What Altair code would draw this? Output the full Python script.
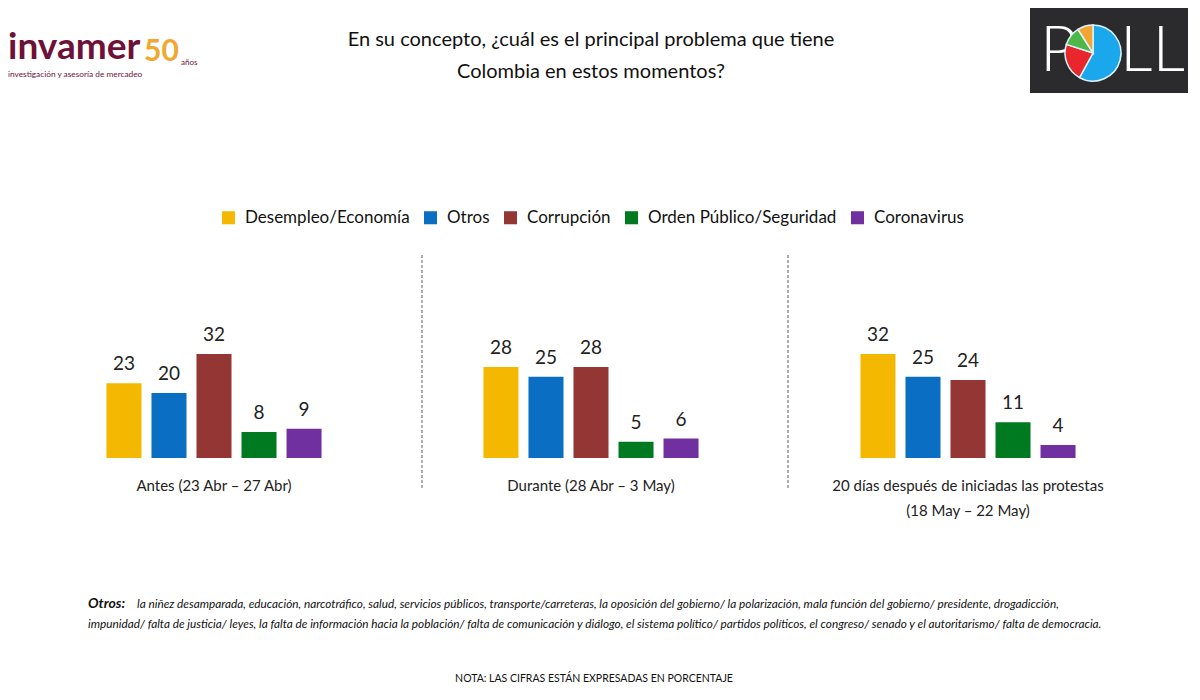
import altair as alt
import pandas as pd

# ---- data ----
categories = ["Desempleo/Economía", "Otros", "Corrupción", "Orden Público/Seguridad", "Coronavirus"]
colors = ["#F5B800", "#0A6FC2", "#943634", "#007A21", "#7030A0"]
periods = ["Antes", "Durante", "Despues"]
period_labels = [
    ["Antes (23 Abr – 27 Abr)"],
    ["Durante (28 Abr – 3 May)"],
    ["20 días después de iniciadas las protestas", "(18 May – 22 May)"],
]
antes = [23, 20, 32, 8, 9]
durante = [28, 25, 28, 5, 6]
despues = [32, 25, 24, 11, 4]

title_lines = ["En su concepto, ¿cuál es el principal problema que tiene", "Colombia en estos momentos?"]
note_bold = "Otros:"
note_line1 = ("la niñez desamparada, educación, narcotráfico, salud, servicios públicos, transporte/carreteras, "
              "la oposición del gobierno/ la polarización, mala función del gobierno/ presidente, drogadicción,")
note_line2 = ("impunidad/ falta de justicia/ leyes, la falta de información hacia la población/ falta de comunicación y diálogo, "
              "el sistema político/ partidos políticos, el congreso/ senado y el autoritarismo/ falta de democracia.")
nota = "NOTA: LAS CIFRAS ESTÁN EXPRESADAS EN PORCENTAJE"

pie_values = [58, 22, 11, 9]
pie_colors = ["#1AA7EC", "#E8262B", "#4DB848", "#F3A533"]

FONT = "Lato"

rows = []
for p, vals in zip(periods, [antes, durante, despues]):
    for c, v in zip(categories, vals):
        rows.append({"period": p, "category": c, "value": v})
df = pd.DataFrame(rows)

lab_df = pd.DataFrame({"period": periods, "label": period_labels})

x_scale = alt.Scale(domain=periods, range=[17.5, 1148.5], paddingInner=0.403, paddingOuter=0.2015)
xo_scale = alt.Scale(domain=categories, paddingInner=0.222, paddingOuter=0.111)
y_scale = alt.Scale(domain=[0, 32], range=[450, 346])

base = alt.Chart(df)

bars = base.mark_bar().encode(
    x=alt.X("period:N", scale=x_scale, axis=None, sort=periods),
    xOffset=alt.XOffset("category:N", scale=xo_scale, sort=categories),
    y=alt.Y("value:Q", scale=y_scale, axis=None),
    color=alt.Color(
        "category:N",
        sort=categories,
        scale=alt.Scale(domain=categories, range=colors),
        legend=alt.Legend(
            title=None, orient="none", legendX=212, legendY=201, direction="horizontal",
            symbolType="square", symbolSize=170, symbolStrokeWidth=0, labelFont=FONT,
            labelFontSize=17, labelColor="#111", labelOffset=8, columnPadding=12,
            labelLimit=400,
        ),
    ),
)

values = base.mark_text(baseline="bottom", dy=-9, font=FONT, fontSize=19, color="#222").encode(
    x=alt.X("period:N", scale=x_scale, sort=periods),
    xOffset=alt.XOffset("category:N", scale=xo_scale, sort=categories),
    y=alt.Y("value:Q", scale=y_scale),
    text=alt.Text("value:Q"),
)

group_labels = alt.Chart(lab_df).mark_text(
    baseline="top", font=FONT, fontSize=15, color="#222", lineHeight=25
).encode(
    x=alt.X("period:N", scale=x_scale, sort=periods),
    y=alt.value(471),
    text="label:N",
)

sep_df = pd.DataFrame({"pos": [414, 780]})
seps = alt.Chart(sep_df).mark_rule(color="#777", strokeDash=[3, 2], strokeWidth=1.2).encode(
    x=alt.X("pos:Q", scale=None),
    y=alt.value(247),
    y2=alt.value(480),
)

title = alt.Chart(pd.DataFrame({"t": [title_lines]})).mark_text(
    font=FONT, fontSize=20, color="#111", lineHeight=32, baseline="top"
).encode(x=alt.value(583), y=alt.value(22), text="t:N")

note_b = alt.Chart(pd.DataFrame({"t": [note_bold]})).mark_text(
    font=FONT, fontSize=14, fontWeight="bold", fontStyle="italic", color="#111", align="left"
).encode(x=alt.value(80), y=alt.value(596), text="t:N")
note_1 = alt.Chart(pd.DataFrame({"t": [note_line1]})).mark_text(
    font=FONT, fontSize=11.8, fontStyle="italic", color="#111", align="left"
).encode(x=alt.value(129), y=alt.value(596), text="t:N")
note_2 = alt.Chart(pd.DataFrame({"t": [note_line2]})).mark_text(
    font=FONT, fontSize=11.8, fontStyle="italic", color="#111", align="left"
).encode(x=alt.value(80), y=alt.value(616), text="t:N")
nota_t = alt.Chart(pd.DataFrame({"t": [nota]})).mark_text(
    font=FONT, fontSize=10.5, color="#111"
).encode(x=alt.value(586), y=alt.value(671), text="t:N")

# invamer logo (text)
logo1 = alt.Chart(pd.DataFrame({"t": ["invamer"]})).mark_text(
    font=FONT, fontSize=37, fontWeight="bold", color="#6E1139", align="left"
).encode(x=alt.value(0), y=alt.value(40), text="t:N")
logo2 = alt.Chart(pd.DataFrame({"t": ["50"]})).mark_text(
    font=FONT, fontSize=30, fontWeight="bold", color="#F0A830", align="left"
).encode(x=alt.value(136), y=alt.value(44), text="t:N")
logo3 = alt.Chart(pd.DataFrame({"t": ["años"]})).mark_text(
    font=FONT, fontSize=8, color="#6E1139", align="left"
).encode(x=alt.value(173), y=alt.value(55), text="t:N")
logo4 = alt.Chart(pd.DataFrame({"t": ["investigación y asesoría de mercadeo"]})).mark_text(
    font=FONT, fontSize=8.3, color="#6E1139", align="left"
).encode(x=alt.value(0), y=alt.value(67), text="t:N")

# POLL logo
poll_bg = alt.Chart(pd.DataFrame({"a": [1]})).mark_rect(color="#2B2B2E").encode(
    x=alt.value(1022), x2=alt.value(1180), y=alt.value(0), y2=alt.value(85)
)
poll_p = alt.Chart(pd.DataFrame({"t": ["P"]})).mark_text(
    font=FONT, fontSize=64, fontWeight=300, color="white", align="left"
).encode(x=alt.value(1032), y=alt.value(44), text="t:N")
poll_ll = alt.Chart(pd.DataFrame({"t": ["LL"]})).mark_text(
    font=FONT, fontSize=64, fontWeight=300, color="white", align="left"
).encode(x=alt.value(1112), y=alt.value(44), text="t:N")
pie_df = pd.DataFrame({"v": pie_values, "c": pie_colors, "o": [0, 1, 2, 3]})
poll_pie = alt.Chart(pie_df).mark_arc(radius=28, stroke="#DDF4FF", strokeWidth=1.5).encode(
    theta=alt.Theta("v:Q", stack=True),
    order=alt.Order("o:Q"),
    color=alt.Color("c:N", scale=None),
    x=alt.value(1085),
    y=alt.value(45),
)

chart = alt.layer(
    bars, values, group_labels, seps, title, note_b, note_1, note_2, nota_t,
    logo1, logo2, logo3, logo4, poll_bg, poll_p, poll_ll, poll_pie,
).resolve_scale(color="independent").properties(
    width=1184, height=676, padding=0, background="white"
).configure_view(stroke=None)

chart.save("out.html", embed_options={"renderer": "svg", "actions": False})
